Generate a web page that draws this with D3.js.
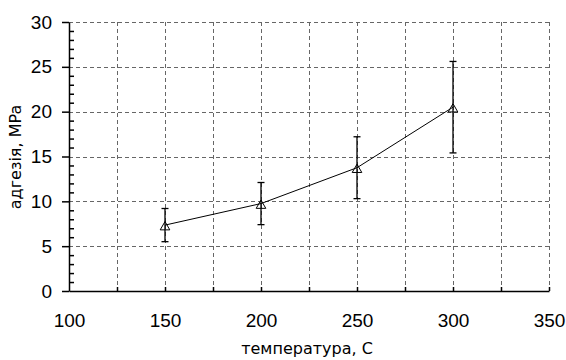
<!DOCTYPE html>
<html>
<head>
<meta charset="utf-8">
<script src="https://cdn.jsdelivr.net/npm/d3@7"></script>
<style>
  body { margin: 0; background: #fff; }
  svg text { font-family: "Liberation Sans", Arial, sans-serif; fill: #000; }
  svg text.title { font-family: "DejaVu Sans", Verdana, sans-serif; }
</style>
</head>
<body>
<div id="chart"></div>
<script>
// data
const temps = [150, 200, 250, 300];
const adhesion = [7.35, 9.75, 13.75, 20.5];
const errors = [1.85, 2.35, 3.45, 5.1];
const xTicks = [100, 150, 200, 250, 300, 350];
const yTicks = [0, 5, 10, 15, 20, 25, 30];

const W = 566, H = 360;
const margin = { left: 69, right: 17, top: 22, bottom: 69 };
const width = W - margin.left - margin.right;
const height = H - margin.top - margin.bottom;

const svg = d3.select('#chart').append('svg')
  .attr('width', W)
  .attr('height', H);

const g = svg.append('g')
  .attr('transform', `translate(${margin.left},${margin.top})`);

const x = d3.scaleLinear().domain([100, 350]).range([0, width]);
const y = d3.scaleLinear().domain([0, 30]).range([height, 0]);

// dashed grid
const gridX = d3.range(125, 351, 25);
const gridY = d3.range(5, 31, 5);
g.selectAll('.gx').data(gridX).enter().append('line')
  .attr('x1', d => Math.round(x(d)) + 0.5).attr('x2', d => Math.round(x(d)) + 0.5)
  .attr('y1', 0).attr('y2', height)
  .attr('stroke', '#666').attr('stroke-width', 1).attr('stroke-dasharray', '4,3');
g.selectAll('.gy').data(gridY).enter().append('line')
  .attr('x1', 0).attr('x2', width)
  .attr('y1', d => Math.round(y(d)) + 0.5).attr('y2', d => Math.round(y(d)) + 0.5)
  .attr('stroke', '#666').attr('stroke-width', 1).attr('stroke-dasharray', '4,3');

// y axis: major ticks outside, minor ticks inside
const yAxis = g.append('g')
  .call(d3.axisLeft(y).tickValues(yTicks).tickSize(7).tickSizeOuter(0).tickPadding(10));
yAxis.selectAll('text').style('font-size', '19px');
g.append('g')
  .call(d3.axisRight(y).tickValues(d3.range(0, 31, 1).filter(v => v % 5 !== 0)).tickSize(5).tickFormat(''))
  .select('.domain').remove();

// x axis: ticks pointing up, labels below
const xAxis = g.append('g')
  .attr('transform', `translate(0,${height})`)
  .call(d3.axisBottom(x).tickValues(xTicks).tickSize(0).tickSizeOuter(0).tickPadding(23));
xAxis.selectAll('text').style('font-size', '19px');
g.append('g')
  .attr('transform', `translate(0,${height})`)
  .call(d3.axisTop(x).tickValues(gridX).tickSize(4).tickFormat(''))
  .select('.domain').remove();

g.selectAll('.domain, .tick line').attr('stroke', '#000').attr('stroke-width', 1.5);

// axis titles
svg.append('text')
  .attr('class', 'title')
  .attr('x', 307)
  .attr('y', 354)
  .attr('text-anchor', 'middle')
  .style('font-size', '16px')
  .text('температура, С');

svg.append('text')
  .attr('class', 'title')
  .attr('transform', 'translate(21,157) rotate(-90)')
  .attr('text-anchor', 'middle')
  .style('font-size', '16px')
  .text('адгезія, MPa');

// line
const pts = temps.map((t, i) => [t, adhesion[i], errors[i]]);
g.append('path')
  .datum(pts)
  .attr('fill', 'none')
  .attr('stroke', '#000')
  .attr('stroke-width', 1)
  .attr('d', d3.line().x(d => x(d[0])).y(d => y(d[1])));

// error bars
const eb = g.selectAll('.err').data(pts).enter().append('g');
eb.append('line')
  .attr('x1', d => x(d[0])).attr('x2', d => x(d[0]))
  .attr('y1', d => y(d[1] - d[2])).attr('y2', d => y(d[1] + d[2]))
  .attr('stroke', '#000').attr('stroke-width', 1.3);
eb.append('line')
  .attr('x1', d => x(d[0]) - 3.5).attr('x2', d => x(d[0]) + 3.5)
  .attr('y1', d => y(d[1] + d[2])).attr('y2', d => y(d[1] + d[2]))
  .attr('stroke', '#000').attr('stroke-width', 1.3);
eb.append('line')
  .attr('x1', d => x(d[0]) - 3.5).attr('x2', d => x(d[0]) + 3.5)
  .attr('y1', d => y(d[1] - d[2])).attr('y2', d => y(d[1] - d[2]))
  .attr('stroke', '#000').attr('stroke-width', 1.3);

// hollow triangle markers
g.selectAll('.mk').data(pts).enter().append('path')
  .attr('transform', d => `translate(${x(d[0])},${y(d[1]) + 2})`)
  .attr('d', d3.symbol().type(d3.symbolTriangle).size(40))
  .attr('fill', 'none')
  .attr('stroke', '#000')
  .attr('stroke-width', 1);
</script>
</body>
</html>
